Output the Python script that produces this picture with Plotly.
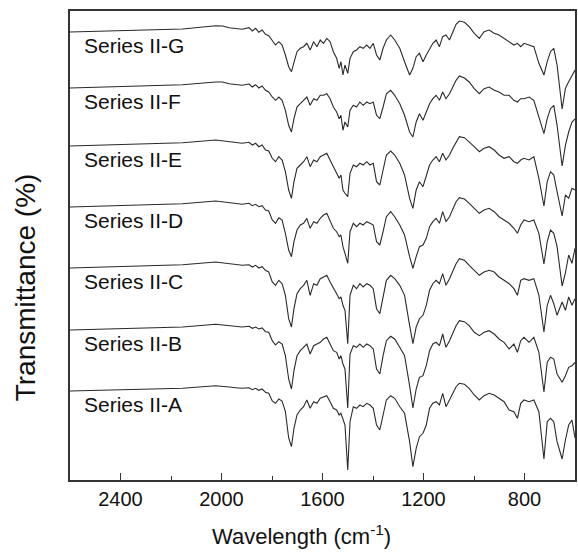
import plotly.graph_objects as go

# Wavenumber grid (cm^-1)
WAVENUMBER = [2600, 2450, 2285, 2154, 2023, 1996, 1970, 1944, 1918, 1891,
              1878, 1865, 1852, 1839, 1826, 1813, 1799, 1786, 1773, 1760,
              1747, 1734, 1723, 1713, 1701, 1688, 1675, 1662, 1649, 1635,
              1622, 1609, 1596, 1583, 1570, 1557, 1544, 1534, 1527, 1519,
              1511, 1500, 1491, 1478, 1465, 1452, 1439, 1425, 1412, 1399,
              1386, 1373, 1360, 1347, 1330, 1314, 1294, 1275, 1255, 1242,
              1229, 1216, 1202, 1189, 1176, 1163, 1150, 1137, 1124, 1111,
              1097, 1084, 1071, 1058, 1038, 1019, 999, 979, 960, 940,
              920, 901, 881, 861, 842, 828, 815, 802, 782, 763,
              743, 723, 710, 697, 684, 671, 651, 638, 625, 612, 600]

# Band depth below each trace's own baseline (transmittance units)
DEPTH_A = [2, 1, 0, -0.7, -3.3, -3, -2, -1.3, -0.7, -1.3,
           0.7, -0.7, 1.3, 0, 3.3, 4.3, 12, 14.3, 10, 12,
           22.7, 49, 57.7, 39.3, 26, 21, 17.7, 11, 19.3, 12.7,
           14.3, 9.3, 7.7, 6.7, 12.7, 19.3, 21, 26, 24.3, 31,
           36, 81, 32.7, 17.7, 19.3, 16, 17.7, 14.3, 16, 19.3,
           36, 41, 26, 11, 6.7, 9.3, 17.7, 24.3, 52.7, 77.7,
           59.3, 47.7, 44.3, 36, 19.3, 14.3, 12.7, 16, 4.3, 17.7,
           11, 4.3, -2.3, -5.7, -4.7, -0.7, 6, 11, 6.7, 4.3,
           6, 9.3, 12.7, 21, 22.7, 29.3, 14.3, 11, 12.7, 11,
           22.7, 70, 32.7, 29.3, 32.7, 52.7, 70, 51, 36, 31, 49]

DEPTH_B = [2, 1, 0, -1, -3.7, -3, -2.3, -1.7, -1, -1.7,
           0.3, -1, 1, 0, 3.7, 4.3, 12.7, 17, 13.7, 16,
           27.7, 51, 61, 42.7, 27.7, 22.7, 19.3, 16, 26, 17.7,
           16, 14.3, 11, 9.3, 16, 22.7, 24.3, 31, 27.7, 36,
           41, 80, 26, 17.7, 19.3, 16, 19.3, 16, 17.7, 21,
           41, 46, 27.7, 12.7, 8.3, 11, 19.3, 27.7, 57.7, 80,
           61, 49.3, 47.7, 37.7, 22.7, 16, 14.3, 17.7, 6, 19.3,
           12.7, 6, -2.3, -7.3, -6.3, -2.3, 4.3, 7.7, 4.3, 2.7,
           6, 11, 14.3, 21, 16, 24.3, 12.7, 9.3, 14.3, 9.3,
           24.3, 64, 34.3, 29.3, 31, 46, 54.3, 47.7, 39.3, 37.7, 34.3]

DEPTH_C = [2, 1, 0, -1.3, -4, -3.3, -2.3, -1.3, -0.7, -1.3,
           1, -0.7, 2, 0.7, 4.3, 6, 16, 19.3, 14.3, 17.7,
           29.3, 52.7, 61, 42.7, 27.7, 22.7, 19.3, 14.3, 29.3, 17.7,
           19.3, 12.7, 11, 9.3, 16, 22.7, 27.7, 32.7, 31, 39.3,
           44.3, 77.7, 29.3, 19.3, 22.7, 17.7, 21, 17.7, 19.3, 22.7,
           42.7, 47.7, 29.3, 14.3, 9.3, 12.7, 19.3, 29.3, 59.3, 77.7,
           61, 52.7, 49.3, 39.3, 24.3, 17.7, 14.3, 17.7, 7.7, 19.3,
           12.7, 4.3, -2.3, -7.3, -5.7, -0.7, 4.3, 9.3, 6, 4.3,
           6, 11, 14.3, 17.7, 22.7, 29.3, 14.3, 12.7, 14.3, 12.7,
           29.3, 66, 39.3, 29.3, 37.7, 49.3, 36, 44.3, 31, 39.3, 32.7]

DEPTH_D = [2, 1, 0, -1.3, -4, -3.3, -2.3, -1.3, -0.7, -1.7,
           0.7, -0.7, 1.7, 0.7, 5, 6, 15, 18.3, 12.7, 15,
           28.3, 45, 51.7, 36.7, 25, 20, 18.3, 13.3, 23.3, 16.7,
           18.3, 13.3, 10, 8.3, 15, 23.3, 26.7, 31.7, 30, 41.7,
           48.3, 58.3, 26.7, 18.3, 21.7, 18.3, 20, 16.7, 18.3, 20,
           36.7, 40, 26.7, 11.7, 6.7, 11.7, 20, 30, 51.7, 63.3,
           51.7, 41.7, 40, 33.3, 21.7, 16.7, 13.3, 18.3, 6.7, 16.7,
           11.7, 3.3, -3.3, -7.3, -6, -1.7, 3.3, 8.3, 5, 3.3,
           6.7, 11.7, 15, 18.3, 23.3, 28.3, 20, 15, 16.7, 15,
           28.3, 59, 36.7, 25, 28.3, 41.7, 81, 68, 50, 58.3, 43.3]

DEPTH_E = [2, 1, 0, -1.3, -4, -3.3, -2.3, -1.3, -0.7, -1.7,
           1, -0.7, 2.7, 1, 6, 7, 14.3, 17.7, 12.7, 16,
           27.7, 46, 54.3, 37.7, 24.3, 21, 17.7, 12.7, 22.7, 16,
           17.7, 12.7, 11, 9.3, 16, 22.7, 27.7, 34.3, 31, 46,
           49.3, 52.7, 29.3, 21, 22.7, 19.3, 21, 17.7, 21, 19.3,
           37.7, 41, 26, 11, 7, 11, 19.3, 31, 54.3, 64.3,
           46, 37.7, 42.7, 31, 21, 16, 12.7, 17.7, 9.3, 16,
           11, 4.3, -2.3, -7.3, -6.3, -2.3, 2.7, 7.7, 4.3, 2.7,
           6, 11, 14.3, 12.7, 17.7, 19.3, 16, 14.3, 16, 12.7,
           34.3, 62, 37.7, 27.7, 31, 47.7, 72, 51, 54.3, 44.3, 46]

DEPTH_F = [2, 1, 0, -1.3, -4, -4, -2.3, -1.3, -0.7, -2,
           1, -1.3, 2, 0, 4.3, 6, 11, 14.3, 11, 14.3,
           24.3, 39.3, 46, 32.7, 21, 17.7, 14.3, 11, 19.3, 12.7,
           14.3, 9.3, 9.3, 7.7, 12.7, 21, 26, 32.7, 29.3, 44.3,
           36, 41, 24.3, 19.3, 21, 16, 19.3, 16, 17.7, 16,
           29.3, 32.7, 21, 7.7, 4.3, 9.3, 17.7, 29.3, 46, 51,
           36, 27.7, 34.3, 26, 17.7, 12.7, 9.3, 14.3, 6, 12.7,
           7.7, 1, -5.7, -10, -8, -4, 2.7, 7.7, 2.7, 1,
           4.3, 6, 9.3, 9.3, 14.3, 16, 12.7, 12.7, 11, 14.3,
           31, 47.7, 32.7, 22.7, 19.3, 39.3, 80, 59.3, 46, 36, 33]

DEPTH_G = [2, 1, 0, -1, -4.3, -4, -2.3, -1.7, -0.7, -2.3,
           1, -1.7, 2.3, 0, 4.3, 5.7, 10, 15, 11.7, 15,
           25, 36.7, 41.7, 31.7, 21.7, 18.3, 16.7, 13.3, 20, 11.7,
           16.7, 10, 13.3, 8.3, 11.7, 21.7, 28.3, 38.3, 31.7, 45,
           35, 43.3, 28.3, 21.7, 20, 16.7, 18.3, 15, 18.3, 13.3,
           25, 30, 18.3, 10, 5, 10, 18.3, 31.7, 45, 38.3,
           26.7, 23.3, 31.7, 25, 18.3, 13.3, 10, 16.7, 6.7, 5,
           10, 1.7, -5.7, -9, -7.7, -3.3, 3.3, 8.3, 1.7, 0,
           3.3, 5, 8.3, 11.7, 15, 13.3, 16.7, 13.3, 15, 16.7,
           33.3, 45, 31.7, 21.7, 18.3, 35, 79, 58.3, 51.7, 45, 40]

SERIES_NAMES = ["Series II-A", "Series II-B", "Series II-C", "Series II-D",
                "Series II-E", "Series II-F", "Series II-G"]
SERIES_DEPTHS = [DEPTH_A, DEPTH_B, DEPTH_C, DEPTH_D, DEPTH_E, DEPTH_F, DEPTH_G]
# vertical offsets used to stack the traces
OFFSETS = [91, 152, 214, 275, 336, 394, 450]

X_TICKS = [2400, 2000, 1600, 1200, 800]
X_TITLE = "Wavelength (cm<sup>-1</sup>)"
Y_TITLE = "Transmittance (%)"

FONT = "Liberation Sans, Arial, sans-serif"
LINE_COLOR = "#2a2a2a"
TEXT_COLOR = "#111111"

fig = go.Figure()
annotations = []
for name, depth, off in zip(SERIES_NAMES, SERIES_DEPTHS, OFFSETS):
    fig.add_trace(go.Scatter(
        x=WAVENUMBER, y=[off - d for d in depth], mode="lines",
        name=name, line=dict(color=LINE_COLOR, width=1.1),
        showlegend=False, hoverinfo="skip"))
    annotations.append(dict(
        x=2551, y=off - 15, xref="x", yref="y", text=name, showarrow=False,
        xanchor="left", yanchor="middle",
        font=dict(family=FONT, size=21, color=TEXT_COLOR)))

# axis titles (placed as in the reference figure)
annotations.append(dict(
    x=0.459, y=-0.117, xref="paper", yref="paper", text=X_TITLE,
    showarrow=False, xanchor="center", yanchor="middle",
    font=dict(family=FONT, size=22, color=TEXT_COLOR)))
annotations.append(dict(
    x=-0.088, y=0.41, xref="paper", yref="paper", text=Y_TITLE,
    showarrow=False, xanchor="center", yanchor="middle", textangle=-90,
    font=dict(family=FONT, size=28, color=TEXT_COLOR)))

fig.update_layout(
    width=578, height=552,
    margin=dict(l=70, r=1, t=11, b=72),
    paper_bgcolor="white", plot_bgcolor="white",
    annotations=annotations,
    font=dict(family=FONT, color=TEXT_COLOR),
)
fig.update_xaxes(
    range=[2600, 600], showgrid=False, zeroline=False,
    showline=True, linecolor="#333333", linewidth=1.5, mirror=True,
    tickmode="array", tickvals=X_TICKS, ticktext=[str(v) for v in X_TICKS],
    ticks="inside", ticklen=7, tickwidth=1.2, tickcolor="#333333",
    minor=dict(tickvals=[2200, 1800, 1400, 1000], ticks="inside", ticklen=4,
               tickwidth=1.2, tickcolor="#333333", showgrid=False),
    tickfont=dict(family=FONT, size=20, color=TEXT_COLOR),
)
fig.update_yaxes(
    range=[0, 469], showgrid=False, zeroline=False,
    showline=True, linecolor="#333333", linewidth=1.5, mirror=True,
    showticklabels=False, ticks="",
)

fig.write_html("out.html")
